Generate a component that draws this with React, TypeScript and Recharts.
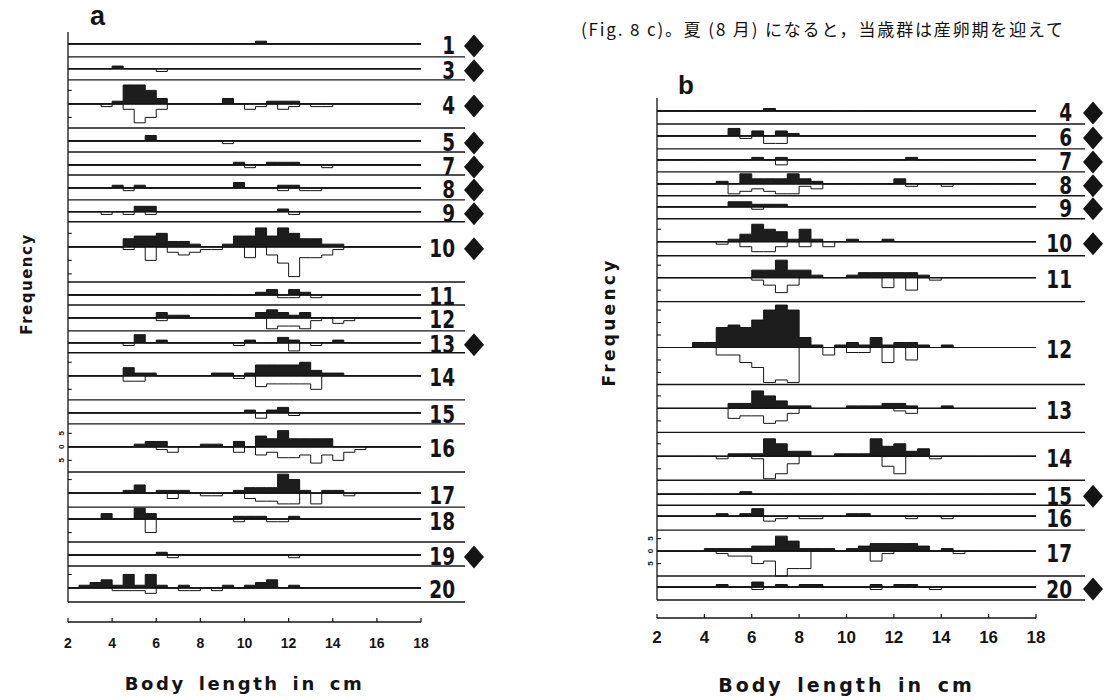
import React from "react";
import { Area, ComposedChart, ReferenceLine, XAxis, YAxis } from "recharts";

// [bin start (cm), filled count above the line, open count below the line]
type Bin = [number, number, number];

const LENGTH_TICKS = [2, 4, 6, 8, 10, 12, 14, 16, 18];

// ---- panel a ----
const aRowLabels = ["1", "3", "4", "5", "7", "8", "9", "10", "11", "12", "13", "14", "15", "16", "17", "18", "19", "20"];
const aMarked = ["1", "3", "4", "5", "7", "8", "9", "10", "13", "19"];
const aHist: Bin[][] = [
  [[10.5, 1, 0]],
  [[4.0, 1, 0], [6.0, 0, 1]],
  [[3.5, 0, 1], [4.0, 1, 0], [4.5, 7, 2], [5.0, 7, 7], [5.5, 5, 5], [6.0, 2, 2], [9.0, 2, 0], [10.0, 0, 2], [10.5, 0, 1], [11.0, 1, 0], [11.5, 1, 2], [12.0, 1, 1], [13.0, 0, 1], [13.5, 0, 1]],
  [[5.5, 2, 0], [9.0, 0, 1]],
  [[9.5, 1, 0], [10.0, 0, 1], [11.0, 1, 0], [11.5, 1, 0], [12.0, 1, 0], [13.5, 0, 1]],
  [[4.0, 1, 0], [4.5, 0, 1], [5.0, 1, 0], [9.5, 2, 0], [11.5, 1, 1], [12.0, 1, 0], [12.5, 0, 1], [13.0, 0, 1]],
  [[3.5, 0, 1], [4.5, 0, 1], [5.0, 2, 0], [5.5, 2, 1], [11.5, 1, 0], [12.0, 0, 1]],
  [[4.5, 3, 1], [5.0, 4, 0], [5.5, 4, 5], [6.0, 5, 0], [6.5, 2, 2], [7.0, 2, 3], [7.5, 1, 2], [8.0, 0, 1], [8.5, 0, 1], [9.0, 1, 0], [9.5, 4, 0], [10.0, 4, 4], [10.5, 7, 0], [11.0, 4, 3], [11.5, 7, 6], [12.0, 5, 11], [12.5, 3, 4], [13.0, 3, 4], [13.5, 1, 3], [14.0, 1, 1]],
  [[10.5, 1, 0], [11.0, 2, 0], [11.5, 0, 1], [12.0, 2, 1], [12.5, 1, 0], [13.0, 0, 1]],
  [[6.0, 2, 1], [6.5, 1, 0], [7.0, 1, 0], [10.5, 2, 0], [11.0, 3, 4], [11.5, 2, 3], [12.0, 1, 3], [12.5, 2, 4], [13.0, 0, 1], [14.0, 0, 2], [14.5, 0, 1]],
  [[4.5, 0, 1], [5.0, 3, 0], [6.0, 1, 0], [9.5, 0, 1], [10.0, 1, 0], [11.5, 2, 0], [12.0, 1, 3], [13.0, 0, 1], [14.0, 1, 0]],
  [[4.5, 3, 2], [5.0, 1, 2], [5.5, 1, 0], [8.5, 1, 0], [9.0, 1, 0], [9.5, 0, 1], [10.0, 1, 0], [10.5, 4, 4], [11.0, 4, 3], [11.5, 4, 3], [12.0, 4, 3], [12.5, 5, 3], [13.0, 2, 5], [13.5, 1, 0], [14.0, 1, 0]],
  [[10.0, 1, 0], [10.5, 0, 2], [11.0, 1, 0], [11.5, 2, 0], [12.0, 0, 1]],
  [[5.0, 1, 0], [5.5, 2, 0], [6.0, 2, 1], [6.5, 0, 2], [8.0, 1, 0], [8.5, 1, 0], [9.5, 2, 2], [10.5, 4, 3], [11.0, 3, 2], [11.5, 6, 4], [12.0, 3, 4], [12.5, 3, 3], [13.0, 3, 6], [13.5, 3, 3], [14.0, 0, 5], [14.5, 0, 2], [15.0, 0, 1]],
  [[4.5, 1, 0], [5.0, 3, 0], [6.0, 1, 0], [6.5, 1, 2], [7.0, 1, 0], [8.0, 0, 1], [8.5, 0, 1], [9.5, 1, 0], [10.0, 2, 2], [10.5, 2, 3], [11.0, 2, 3], [11.5, 7, 4], [12.0, 5, 4], [12.5, 1, 0], [13.0, 0, 4], [13.5, 1, 0], [14.0, 1, 0], [14.5, 0, 1]],
  [[3.5, 2, 0], [5.0, 4, 0], [5.5, 2, 5], [9.5, 1, 1], [10.0, 1, 0], [10.5, 1, 0], [11.0, 0, 1], [11.5, 0, 1], [12.0, 1, 0]],
  [[6.0, 1, 0], [6.5, 0, 1], [12.0, 0, 1]],
  [[2.5, 1, 0], [3.0, 2, 0], [3.5, 3, 0], [4.0, 1, 1], [4.5, 5, 1], [5.0, 1, 1], [5.5, 5, 2], [6.0, 1, 0], [7.0, 1, 1], [7.5, 0, 1], [8.5, 0, 1], [9.0, 1, 0], [10.0, 1, 0], [10.5, 2, 0], [11.0, 3, 0], [12.0, 1, 0]],
];
// row band above / below each base line (frequency units)
const aSpanUp = [4.4, 4.4, 8.9, 4.8, 4.8, 4.8, 4.4, 9.3, 4.8, 4.8, 4.4, 8.5, 4.8, 8.5, 7.8, 4.4, 4.8, 8.1];
const aSpanDown = [4.8, 4.1, 8.9, 4.1, 3.7, 4.4, 3.7, 13, 3.7, 4.8, 3.7, 8.9, 4.1, 9.3, 5.2, 8.5, 4.1, 5.2];

// ---- panel b ----
const bRowLabels = ["4", "6", "7", "8", "9", "10", "11", "12", "13", "14", "15", "16", "17", "20"];
const bMarked = ["4", "6", "7", "8", "9", "10", "15", "20"];
const bHist: Bin[][] = [
  [[6.5, 1, 0]],
  [[5.0, 3, 0], [5.5, 0, 1], [6.0, 2, 0], [6.5, 0, 3], [7.0, 2, 3], [7.5, 1, 0]],
  [[6.0, 1, 0], [7.0, 1, 2], [12.5, 1, 0]],
  [[4.5, 1, 0], [5.0, 0, 4], [5.5, 4, 3], [6.0, 2, 2], [6.5, 2, 3], [7.0, 2, 4], [7.5, 4, 4], [8.0, 2, 1], [8.5, 1, 2], [12.0, 2, 0], [12.5, 0, 1], [14.0, 0, 1]],
  [[5.0, 2, 0], [5.5, 2, 0], [6.0, 1, 1], [6.5, 1, 0], [7.0, 1, 0]],
  [[4.5, 0, 1], [5.0, 1, 0], [5.5, 3, 2], [6.0, 7, 4], [6.5, 5, 4], [7.0, 4, 2], [7.5, 1, 0], [8.0, 5, 2], [8.5, 1, 0], [9.0, 0, 2], [10.0, 1, 0], [11.5, 1, 0]],
  [[6.0, 3, 1], [6.5, 3, 3], [7.0, 7, 6], [7.5, 3, 3], [8.0, 3, 0], [8.5, 1, 0], [10.0, 1, 0], [10.5, 2, 0], [11.0, 2, 0], [11.5, 2, 4], [12.0, 2, 0], [12.5, 2, 5], [13.0, 1, 0], [13.5, 0, 1]],
  [[3.5, 2, 0], [4.0, 2, 0], [4.5, 8, 3], [5.0, 9, 3], [5.5, 8, 6], [6.0, 11, 8], [6.5, 15, 14], [7.0, 17, 13], [7.5, 15, 14], [8.0, 4, 0], [8.5, 1, 0], [9.0, 0, 3], [9.5, 1, 0], [10.0, 2, 2], [10.5, 1, 2], [11.0, 4, 0], [11.5, 1, 6], [12.0, 2, 0], [12.5, 2, 5], [13.0, 1, 0], [14.0, 1, 0]],
  [[5.0, 2, 4], [5.5, 2, 3], [6.0, 7, 3], [6.5, 5, 6], [7.0, 3, 5], [7.5, 1, 2], [8.0, 1, 0], [10.0, 1, 0], [10.5, 1, 0], [11.0, 1, 0], [11.5, 2, 0], [12.0, 2, 1], [12.5, 1, 2], [14.0, 1, 0]],
  [[4.5, 0, 1], [5.0, 1, 0], [5.5, 1, 0], [6.0, 1, 1], [6.5, 7, 9], [7.0, 5, 7], [7.5, 2, 3], [8.0, 2, 0], [9.5, 1, 0], [10.0, 1, 0], [10.5, 1, 0], [11.0, 7, 0], [11.5, 4, 4], [12.0, 5, 7], [12.5, 2, 0], [13.0, 3, 0], [13.5, 0, 1]],
  [[5.5, 1, 0]],
  [[4.5, 1, 0], [5.5, 1, 0], [6.0, 3, 0], [6.5, 0, 2], [7.0, 0, 1], [8.0, 0, 1], [8.5, 0, 1], [10.0, 1, 0], [10.5, 1, 0], [12.5, 0, 1], [14.0, 0, 1]],
  [[4.0, 1, 0], [4.5, 1, 1], [5.0, 1, 2], [5.5, 1, 2], [6.0, 2, 5], [6.5, 2, 4], [7.0, 6, 10], [7.5, 4, 7], [8.0, 1, 7], [8.5, 1, 0], [9.0, 1, 0], [10.0, 1, 0], [10.5, 2, 0], [11.0, 3, 4], [11.5, 3, 1], [12.0, 3, 0], [12.5, 3, 0], [13.0, 2, 0], [14.0, 1, 0], [14.5, 0, 1]],
  [[4.5, 1, 0], [6.0, 2, 1], [7.0, 1, 0], [8.0, 1, 0], [8.5, 1, 0], [11.0, 1, 1], [12.0, 1, 0], [12.5, 1, 0], [13.5, 0, 1]],
];
const bSpanUp = [5.2, 4.8, 4.4, 4.8, 4.4, 9.2, 8.8, 18.4, 9.6, 9.6, 5.6, 4.4, 8.4, 4.4];
const bSpanDown = [5.2, 5.2, 4.8, 4.8, 4.8, 5.6, 9.6, 14.8, 9.6, 9.6, 4.4, 5.6, 10, 5.2];

const EDGES: number[] = [];
for (let x = 2; x <= 18.001; x += 0.5) EDGES.push(Math.round(x * 10) / 10);

const INK = "#141414";
const SANS = "'Liberation Sans', Arial, sans-serif";
const HEAVY = "'DejaVu Sans', sans-serif";

function buildRows(spanUp: number[], spanDown: number[]) {
  const total = [...spanUp, ...spanDown].reduce((s, v) => s + v, 0);
  let cursor = total;
  const rows = spanUp.map((up, i) => {
    const base = cursor - up;
    const bottom = base - spanDown[i];
    cursor = bottom;
    return { base, bottom };
  });
  return { total, rows };
}

function buildTable(hist: Bin[][]) {
  return EDGES.map((x) => {
    const rec: Record<string, number> = { x };
    hist.forEach((bins, i) => {
      const hit = bins.find((b) => Math.abs(b[0] - x) < 1e-6);
      rec[`u${i}`] = hit ? hit[1] : 0;
      rec[`d${i}`] = hit ? hit[2] : 0;
    });
    return rec;
  });
}

type Cfg = {
  width: number;
  height: number;
  margin: { top: number; right: number; bottom: number; left: number };
  gapRatio: number;
  numberDx: number;
  diamondDx: number;
  sepExtra: number;
  tickFont: number;
  tickDy: number;
  titleFont: number;
  titleSpacing: number;
  titleDy: number;
};

function Panel({
  hist, labels, marked, spanUp, spanDown, scaleRow, cfg,
}: {
  hist: Bin[][];
  labels: string[];
  marked: string[];
  spanUp: number[];
  spanDown: number[];
  scaleRow: number;
  cfg: Cfg;
}) {
  const { total, rows } = buildRows(spanUp, spanDown);
  const table = buildTable(hist);
  const yMin = -total * cfg.gapRatio;

  const ticks: { y: number; row: number }[] = [];
  rows.forEach((r, i) => {
    for (let k = 5; k < spanUp[i] - 1; k += 5) ticks.push({ y: r.base + k, row: i });
    for (let k = 5; k < spanDown[i] - 1; k += 5) ticks.push({ y: r.base - k, row: i });
  });

  const scaleText = (x: number, y: number, t: string) => (
    <text
      x={0} y={0} transform={`translate(${x - 7},${y}) rotate(-90)`}
      textAnchor="middle" dominantBaseline="central"
      fontFamily={SANS} fontWeight="bold" fontSize={8} fill={INK}
    >
      {t}
    </text>
  );

  return (
    <ComposedChart width={cfg.width} height={cfg.height} data={table} margin={cfg.margin}>
      <XAxis
        type="number"
        dataKey="x"
        domain={[2, 18]}
        ticks={LENGTH_TICKS}
        interval={0}
        height={75}
        axisLine={{ stroke: INK, strokeWidth: 1.3 }}
        tickLine={false}
        tickSize={0}
        tickMargin={0}
        tick={(p: any) => (
          <g>
            <line x1={p.x} x2={p.x} y1={p.y} y2={p.y - 4} stroke={INK} strokeWidth={1.2} />
            <text
              x={p.x} y={p.y + cfg.tickDy} textAnchor="middle"
              fontFamily={SANS} fontWeight="bold" fontSize={cfg.tickFont} fill={INK}
            >
              {p.payload.value}
            </text>
          </g>
        )}
        label={(p: any) => {
          const vb = p.viewBox;
          return (
            <text
              x={vb.x + vb.width / 2} y={vb.y + cfg.titleDy} textAnchor="middle"
              fontFamily={HEAVY} fontWeight="bold" fontSize={cfg.titleFont}
              letterSpacing={cfg.titleSpacing} wordSpacing={4} fill={INK}
            >
              Body length in cm
            </text>
          );
        }}
      />
      <YAxis type="number" domain={[yMin, total]} hide />

      {rows.map((r, i) => (
        <Area
          key={`u${i}`}
          type="stepAfter"
          dataKey={(d: any) => [r.base, r.base + d[`u${i}`]]}
          stroke={INK}
          strokeWidth={1}
          fill="#1d1d1d"
          fillOpacity={1}
          dot={false}
          activeDot={false}
          isAnimationActive={false}
        />
      ))}
      {rows.map((r, i) => (
        <Area
          key={`d${i}`}
          type="stepAfter"
          dataKey={(d: any) => [r.base - d[`d${i}`], r.base]}
          stroke={INK}
          strokeWidth={1}
          fill="none"
          dot={false}
          activeDot={false}
          isAnimationActive={false}
        />
      ))}

      {/* vertical frequency axis */}
      <ReferenceLine segment={[{ x: 2, y: 0 }, { x: 2, y: total }]} stroke={INK} strokeWidth={1.3} />

      {ticks.map((t, i) => (
        <ReferenceLine
          key={`t${i}`}
          segment={[{ x: 2, y: t.y }, { x: 2.17, y: t.y }]}
          stroke={INK}
          strokeWidth={1.1}
          label={(p: any) =>
            t.row === scaleRow ? scaleText(p.viewBox.x, p.viewBox.y, "5") : <g />
          }
        />
      ))}

      {/* separators between rows, reaching under the row numbers */}
      {rows.map((r, i) => (
        <ReferenceLine
          key={`s${i}`}
          y={r.bottom}
          stroke={INK}
          strokeWidth={1.4}
          shape={(p: any) => (
            <line x1={p.x1} y1={p.y1} x2={p.x2 + cfg.sepExtra} y2={p.y2} stroke={INK} strokeWidth={1.4} />
          )}
        />
      ))}

      {/* base lines with row numbers and markers */}
      {rows.map((r, i) => (
        <ReferenceLine
          key={`b${i}`}
          y={r.base}
          stroke={INK}
          strokeWidth={1.2}
          label={(p: any) => {
            const vb = p.viewBox;
            const right = vb.x + vb.width;
            const cy = vb.y + 2;
            const cx = right + cfg.diamondDx;
            return (
              <g>
                <g transform={`translate(${right + cfg.numberDx},${cy + 8.5}) scale(0.77,1)`}>
                  <text x={0} y={0} textAnchor="end" fontFamily={HEAVY} fontWeight="bold" fontSize={24} fill={INK}>
                    {labels[i]}
                  </text>
                </g>
                {marked.includes(labels[i]) && (
                  <polygon
                    points={`${cx},${cy - 11.5} ${cx + 10},${cy} ${cx},${cy + 11.5} ${cx - 10},${cy}`}
                    fill={INK}
                  />
                )}
                {i === scaleRow && scaleText(vb.x, vb.y, "0")}
              </g>
            );
          }}
        />
      ))}
    </ComposedChart>
  );
}

const aCfg: Cfg = {
  width: 560, height: 700,
  margin: { top: 32, right: 139, bottom: 3, left: 68 },
  gapRatio: 20 / 570,
  numberDx: 34, diamondDx: 53, sepExtra: 44,
  tickFont: 14, tickDy: 26,
  titleFont: 18, titleSpacing: 2.6, titleDy: 68,
};

const bCfg: Cfg = {
  width: 551, height: 700,
  margin: { top: 98, right: 75, bottom: 7, left: 97 },
  gapRatio: 18 / 502,
  numberDx: 36, diamondDx: 57, sepExtra: 49,
  tickFont: 17, tickDy: 25,
  titleFont: 19, titleSpacing: 3, titleDy: 74,
};

export default function App() {
  return (
    <div style={{ position: "absolute", left: 0, top: 0, width: 1111, height: 700, background: "#fff" }}>
      <div style={{ position: "absolute", left: 0, top: 0 }}>
        <Panel hist={aHist} labels={aRowLabels} marked={aMarked} spanUp={aSpanUp} spanDown={aSpanDown} scaleRow={13} cfg={aCfg} />
      </div>
      <div style={{ position: "absolute", left: 560, top: 0 }}>
        <Panel hist={bHist} labels={bRowLabels} marked={bMarked} spanUp={bSpanUp} spanDown={bSpanDown} scaleRow={12} cfg={bCfg} />
      </div>
      <svg width={1111} height={700} style={{ position: "absolute", left: 0, top: 0, pointerEvents: "none" }}>
        <text x={90} y={25} fontFamily={SANS} fontWeight="bold" fontSize={27} fill={INK}>a</text>
        <text x={678} y={94} fontFamily={SANS} fontWeight="bold" fontSize={26} fill={INK}>b</text>
        <text
          x={0} y={0} transform="translate(27,284) rotate(-90)" textAnchor="middle" dominantBaseline="central"
          fontFamily={HEAVY} fontWeight="bold" fontSize={15} letterSpacing={1.5} fill={INK}
        >
          Frequency
        </text>
        <text
          x={0} y={0} transform="translate(609,322) rotate(-90)" textAnchor="middle" dominantBaseline="central"
          fontFamily={HEAVY} fontWeight="bold" fontSize={17} letterSpacing={3.3} fill={INK}
        >
          Frequency
        </text>
        <text
          x={581} y={36} fontFamily="'Noto Sans CJK JP', sans-serif" fontSize={17} fill="#111"
          textLength={482} lengthAdjust="spacing"
        >
          (Fig. 8 c)。夏 (8 月) になると，当歳群は産卵期を迎えて
        </text>
      </svg>
    </div>
  );
}
